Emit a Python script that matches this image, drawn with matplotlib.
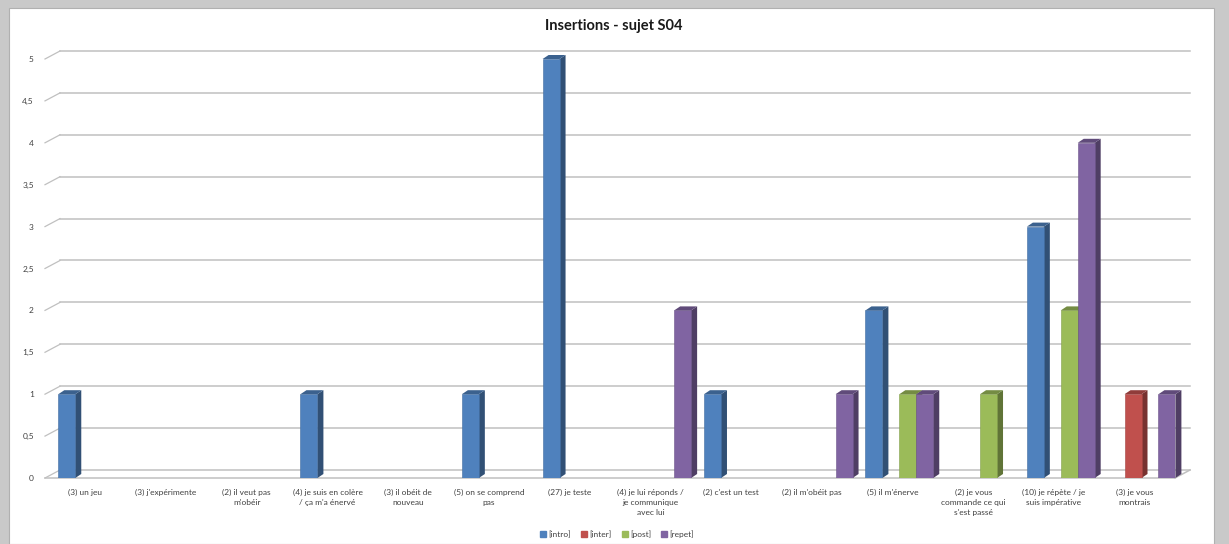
import numpy as np
import matplotlib
matplotlib.use("Agg")
import matplotlib.pyplot as plt
from matplotlib.patches import Polygon, Rectangle
from matplotlib.lines import Line2D
from matplotlib.colors import to_rgb

# ---------------- data ----------------
categories = [
    "(3) un jeu",
    "(3) j'expérimente",
    "(2) il veut pas\nm'obéir",
    "(4) je suis en colère\n/ ça m'a énervé",
    "(3) il obéit de\nnouveau",
    "(5) on se comprend\npas",
    "(27) je teste",
    "(4) je lui réponds /\nje communique\navec lui",
    "(2) c'est un test",
    "(2) il m'obéit pas",
    "(5) il m'énerve",
    "(2) je vous\ncommande ce qui\ns'est passé",
    "(10) je répète / je\nsuis impérative",
    "(3) je vous\nmontrais",
]
series_names = ["[intro]", "[inter]", "[post]", "[repet]"]
intro = [1, 0, 0, 1, 0, 1, 5, 0, 1, 0, 2, 0, 3, 0]
inter = [0, 0, 0, 0, 0, 0, 0, 0, 0, 0, 0, 0, 0, 1]
post  = [0, 0, 0, 0, 0, 0, 0, 0, 0, 0, 1, 1, 2, 0]
repet = [0, 0, 0, 0, 0, 0, 0, 2, 0, 1, 1, 0, 4, 1]
y_ticks = [0, 0.5, 1, 1.5, 2, 2.5, 3, 3.5, 4, 4.5, 5]
y_tick_labels = ["0", "0,5", "1", "1,5", "2", "2,5", "3", "3,5", "4", "4,5", "5"]
title = "Insertions - sujet S04"

colors = ["#4F81BD", "#C0504D", "#9BBB59", "#8064A2"]

def shade(c, f):
    r, g, b = to_rgb(c)
    return (r * f, g * f, b * f)

W, H = 1229, 544
DPI = 100
plt.rcParams['font.family'] = ['Lato', 'DejaVu Sans']

fig = plt.figure(figsize=(W / DPI, H / DPI), dpi=DPI)
fig.patch.set_facecolor("#c9c9c9")
# white chart area
fig.add_artist(Rectangle((9 / W, 0), (1214 - 9) / W, (H - 8) / H,
                         transform=fig.transFigure, facecolor="white",
                         edgecolor="#b0b0b0", lw=0.8, zorder=0))

# front plane axes
left_px, right_px = 45, 1175
bot_px, top_px = 478, 59
ax = fig.add_axes([left_px / W, (H - bot_px) / H,
                   (right_px - left_px) / W, (bot_px - top_px) / H])
ax.set_facecolor("none")
ax.set_xlim(-0.5, len(categories) - 0.5)
ax.set_ylim(0, 5)
for s in ax.spines.values():
    s.set_visible(False)

# pixel -> data conversions
ppx = (right_px - left_px) / len(categories)
ppy = (bot_px - top_px) / 5.0
DEPTH_X, DEPTH_Y = 15 / ppx, 8 / ppy   # wall depth
BX, BY = 6 / ppx, 4 / ppy              # bar depth

grid_c = "#c0c0c0"
x0, x1 = -0.5, len(categories) - 0.5
for y in y_ticks:
    ax.add_line(Line2D([x0 + DEPTH_X, x1 + DEPTH_X], [y + DEPTH_Y, y + DEPTH_Y],
                       color=grid_c, lw=1.1, clip_on=False, zorder=1))
    ax.add_line(Line2D([x0, x0 + DEPTH_X], [y, y + DEPTH_Y],
                       color=grid_c, lw=0.9, clip_on=False, zorder=1))
# floor front edge and right edge
ax.add_line(Line2D([x0, x1], [0, 0], color=grid_c, lw=1.1, clip_on=False, zorder=1))
ax.add_line(Line2D([x1, x1 + DEPTH_X], [0, DEPTH_Y], color=grid_c, lw=1.1,
                   clip_on=False, zorder=1))

# bars
slot = 0.21
offsets = [-0.23, -0.02, 0.19, 0.40]
xs = np.arange(len(categories))
all_series = [intro, inter, post, repet]
handles = []
for si, (vals, c, off) in enumerate(zip(all_series, colors, offsets)):
    vals = np.array(vals, dtype=float)
    mask = vals > 0
    bx = xs[mask] + off
    bars = ax.bar(bx, vals[mask], width=slot, color=c, edgecolor=shade(c, 0.85),
                  linewidth=0.4, zorder=3 + si * 0.01)
    for rect in bars:
        xl = rect.get_x()
        xr = xl + rect.get_width()
        h = rect.get_height()
        side = Polygon([(xr, 0), (xr + BX, BY), (xr + BX, h + BY), (xr, h)],
                       closed=True, facecolor=shade(c, 0.62), edgecolor="none",
                       zorder=2.9 + si * 0.01, clip_on=False)
        top = Polygon([(xl, h), (xl + BX, h + BY), (xr + BX, h + BY), (xr, h)],
                      closed=True, facecolor=shade(c, 0.75), edgecolor="none",
                      zorder=3 + si * 0.01, clip_on=False)
        ax.add_patch(side)
        ax.add_patch(top)
    handles.append(Line2D([], [], marker="s", ls="none", markersize=4.5,
                          markerfacecolor=c, markeredgecolor=c))

ax.set_xticks(xs)
ax.set_xticklabels(categories, fontsize=6, color="#404040", linespacing=1.45)
ax.set_yticks(y_ticks)
ax.set_yticklabels(y_tick_labels, fontsize=6, color="#404040")
ax.tick_params(axis="both", length=0)
ax.tick_params(axis="x", pad=8)
ax.tick_params(axis="y", pad=8)

fig.text(614 / W, (H - 26) / H, title, ha="center", va="center",
         fontsize=10.5, fontweight="bold", color="#1a1a1a")

fig.legend(handles, series_names, loc="center", bbox_to_anchor=(617 / W, (H - 534) / H),
           ncol=4, frameon=False, fontsize=6, handlelength=0.8,
           handletextpad=0.2, columnspacing=1.2, labelcolor="#404040")

fig.savefig("out.png", dpi=DPI, facecolor=fig.get_facecolor())
